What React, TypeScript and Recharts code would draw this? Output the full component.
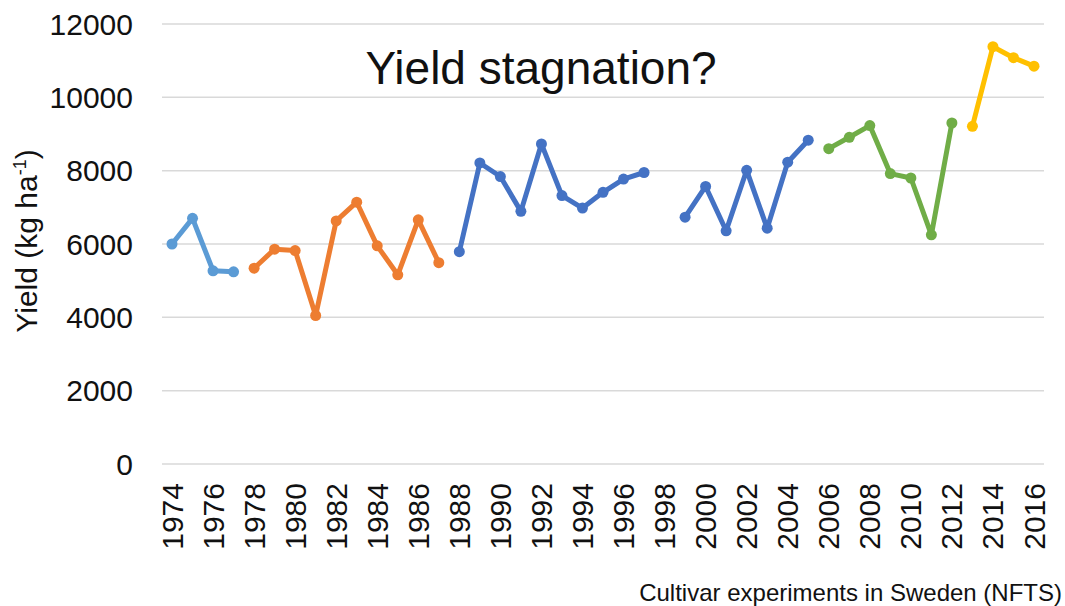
import React from 'react';
import { LineChart, Line, XAxis, YAxis, CartesianGrid, Customized } from 'recharts';

const years = [
  1974, 1975, 1976, 1977, 1978, 1979, 1980, 1981, 1982, 1983, 1984, 1985, 1986, 1987,
  1988, 1989, 1990, 1991, 1992, 1993, 1994, 1995, 1996, 1997, 1998, 1999, 2000, 2001,
  2002, 2003, 2004, 2005, 2006, 2007, 2008, 2009, 2010, 2011, 2012, 2013, 2014, 2015, 2016,
];
const yTicks = [0, 2000, 4000, 6000, 8000, 10000, 12000];

const series1Start = 1974;
const series1 = [6000, 6700, 5270, 5240];
const series2Start = 1978;
const series2 = [5340, 5860, 5820, 4050, 6630, 7140, 5950, 5160, 6660, 5490];
const series3Start = 1988;
const series3 = [5790, 8210, 7840, 6890, 8730, 7320, 6980, 7410, 7770, 7950];
const series4Start = 1999;
const series4 = [6730, 7570, 6360, 8010, 6430, 8230, 8830];
const series5Start = 2006;
const series5 = [8600, 8910, 9230, 7920, 7800, 6250, 9300];
const series6Start = 2013;
const series6 = [9210, 11380, 11080, 10850];

const titleText = 'Yield stagnation?';
const footerText = 'Cultivar experiments in Sweden (NFTS)';

const pick = (start: number, values: number[], year: number) => {
  const i = year - start;
  return i >= 0 && i < values.length ? values[i] : null;
};

const data = years.map((y) => ({
  year: String(y),
  s1: pick(series1Start, series1, y),
  s2: pick(series2Start, series2, y),
  s3: pick(series3Start, series3, y),
  s4: pick(series4Start, series4, y),
  s5: pick(series5Start, series5, y),
  s6: pick(series6Start, series6, y),
}));

const FONT = '"Liberation Sans", Arial, Helvetica, sans-serif';
const TEXT = '#111';

const seriesStyle: { key: string; color: string }[] = [
  { key: 's1', color: '#5B9BD5' },
  { key: 's2', color: '#ED7D31' },
  { key: 's3', color: '#4472C4' },
  { key: 's4', color: '#4472C4' },
  { key: 's5', color: '#70AD47' },
  { key: 's6', color: '#FFC000' },
];

const XTick = (props: any) => {
  const { x, y, payload } = props;
  return (
    <text
      x={x}
      y={y}
      dy="0.35em"
      textAnchor="end"
      transform={`rotate(-90, ${x}, ${y})`}
      fontFamily={FONT}
      fontSize={30}
      fill={TEXT}
    >
      {payload.value}
    </text>
  );
};

const YTick = (props: any) => {
  const { x, y, payload } = props;
  return (
    <text x={x} y={y} dy="0.35em" textAnchor="end" fontFamily={FONT} fontSize={30} fill={TEXT}>
      {payload.value}
    </text>
  );
};

const Annotations = () => (
  <g>
    <text x={541} y={83.5} textAnchor="middle" fontFamily={FONT} fontSize={46} fill={TEXT}>
      {titleText}
    </text>
    <text x={1062} y={601} textAnchor="end" fontFamily={FONT} fontSize={24} fill={TEXT}>
      {footerText}
    </text>
    <text
      x={37}
      y={241}
      textAnchor="middle"
      transform="rotate(-90, 37, 241)"
      fontFamily={FONT}
      fontSize={30}
      fill={TEXT}
    >
      Yield (kg ha
      <tspan fontSize={18} dy={-11}>-1</tspan>
      <tspan dy={11}>)</tspan>
    </text>
  </g>
);

export default function App() {
  return (
    <div style={{ position: 'absolute', left: 0, top: 0, background: '#fff' }}>
      <LineChart
        width={1065}
        height={606}
        data={data}
        margin={{ top: 24, right: 21, left: 0, bottom: 0 }}
      >
        <CartesianGrid vertical={false} stroke="#d9d9d9" strokeWidth={1.5} />
        <XAxis
          dataKey="year"
          interval={1}
          height={142}
          tickLine={false}
          axisLine={false}
          tickSize={6}
          tickMargin={13}
          padding={{ left: 10, right: 10 }}
          tick={<XTick />}
        />
        <YAxis
          width={162}
          domain={[0, 12000]}
          ticks={yTicks}
          tickLine={false}
          axisLine={false}
          tickSize={6}
          tickMargin={23}
          tick={<YTick />}
        />
        {seriesStyle.map((s) => (
          <Line
            key={s.key}
            type="linear"
            dataKey={s.key}
            stroke={s.color}
            strokeWidth={5}
            strokeLinejoin="round"
            strokeLinecap="round"
            dot={{ r: 5.5, fill: s.color, stroke: s.color, strokeWidth: 0 }}
            activeDot={false}
            connectNulls={false}
            isAnimationActive={false}
          />
        ))}
        <Customized component={Annotations} />
      </LineChart>
    </div>
  );
}
